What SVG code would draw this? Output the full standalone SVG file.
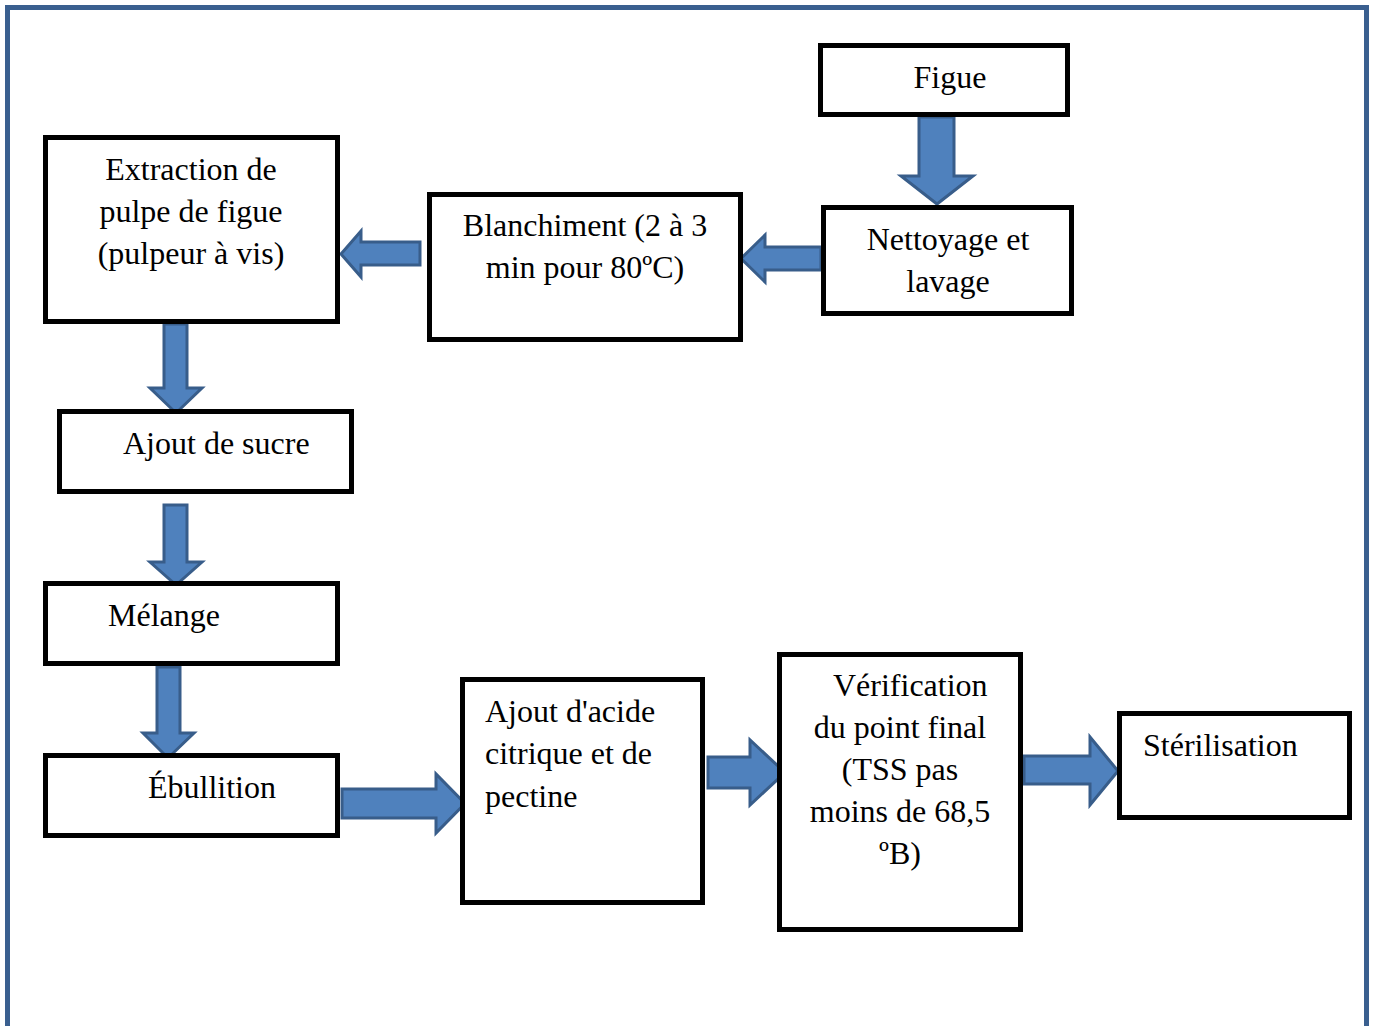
<svg xmlns="http://www.w3.org/2000/svg" width="1373" height="1026" viewBox="0 0 1373 1026">
<style>
.box{fill:#fff;stroke:#000;stroke-width:5}
.arr{fill:#4f81bd;stroke:#385d8a;stroke-width:3;stroke-linejoin:miter}
text{font-family:"Liberation Serif","Times New Roman",serif;font-size:32px;fill:#000}
.c{text-anchor:middle}
</style>
<rect width="1373" height="1026" fill="#fff"/>
<path d="M7.5,1026 V7.5 H1366.5 V1026" fill="none" stroke="#3a5f8f" stroke-width="5"/>
<g id="connectors">
<path class="arr" d="M919,117 H954 V176 H973 L937,204 L901,176 H919 Z"/>
<path class="arr" d="M821,247 H765 V235 L741,258.5 L765,282 V270 H821 Z"/>
<path class="arr" d="M420,242 H361 V231 L341,254 L361,277 V265 H420 Z"/>
<path class="arr" d="M164,324 H187 V388 H202 L176,413 L150,388 H164 Z"/>
<path class="arr" d="M164,505 H187 V562 H202 L176,585 L150,562 H164 Z"/>
<path class="arr" d="M157,667 H180 V733 H194 L168,758 L143,733 H157 Z"/>
<path class="arr" d="M342,789 H436 V774 L465,803.5 L436,833 V818 H342 Z"/>
<path class="arr" d="M708,757 H750 V740 L785,772.5 L750,805 V788 H708 Z"/>
<path class="arr" d="M1024,756 H1090 V737 L1118,771 L1090,805 V784 H1024 Z"/>
</g>
<g id="figue"><rect class="box" x="820.5" y="45.5" width="247" height="69"/><text class="c" x="950" y="88">Figue</text></g>
<g id="nettoyage"><rect class="box" x="823.5" y="207.5" width="248" height="106"/><text class="c" x="948" y="250">Nettoyage et</text><text class="c" x="948" y="292">lavage</text></g>
<g id="blanchiment"><rect class="box" x="429.5" y="194.5" width="311" height="145"/><text class="c" x="585" y="236">Blanchiment (2 à 3</text><text class="c" x="585" y="278">min pour 80ºC)</text></g>
<g id="extraction"><rect class="box" x="45.5" y="137.5" width="292" height="184"/><text class="c" x="191" y="180">Extraction de</text><text class="c" x="191" y="222">pulpe de figue</text><text class="c" x="191" y="264">(pulpeur à vis)</text></g>
<g id="sucre"><rect class="box" x="59.5" y="411.5" width="292" height="80"/><text x="123" y="454">Ajout de sucre</text></g>
<g id="melange"><rect class="box" x="45.5" y="583.5" width="292" height="80"/><text x="108" y="626">Mélange</text></g>
<g id="ebullition"><rect class="box" x="45.5" y="755.5" width="292" height="80"/><text x="148" y="798">Ébullition</text></g>
<g id="acide"><rect class="box" x="462.5" y="679.5" width="240" height="223"/><text x="485" y="722">Ajout d'acide</text><text x="485" y="764">citrique et de</text><text x="485" y="807">pectine</text></g>
<g id="verification"><rect class="box" x="779.5" y="654.5" width="241" height="275"/><text x="833" y="696">Vérification</text><text class="c" x="900" y="738">du point final</text><text class="c" x="900" y="780">(TSS pas</text><text class="c" x="900" y="822">moins de 68,5</text><text class="c" x="900" y="864">ºB)</text></g>
<g id="sterilisation"><rect class="box" x="1119.5" y="713.5" width="230" height="104"/><text x="1143" y="756">Stérilisation</text></g>
</svg>
